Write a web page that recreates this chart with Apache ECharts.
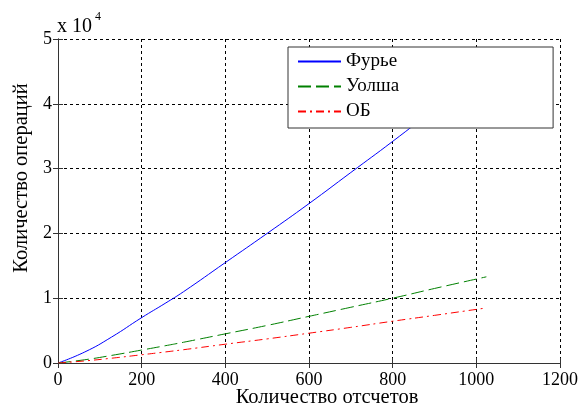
<!DOCTYPE html>
<html>
<head>
<meta charset="utf-8">
<script src="https://cdn.jsdelivr.net/npm/echarts@6/dist/echarts.min.js"></script>
<style>
html,body{margin:0;padding:0;background:#fff;}
#chart{width:584px;height:407px;}
</style>
</head>
<body>
<div id="chart"></div>
<script>
// Values
const samples = [0, 64, 128, 200, 256, 300, 400, 500, 600, 700, 800, 900, 1024];
const fourier = [0, 1700, 4000, 7000, 9200, 11000, 15500, 20000, 24600, 29400, 34200, 39200, 45500];
const walsh   = [0, 500, 1170, 2000, 2660, 3200, 4500, 5800, 7200, 8600, 10000, 11500, 13300];
const ob      = [0, 320, 740, 1270, 1700, 2050, 2900, 3720, 4600, 5500, 6450, 7350, 8500];
const seriesNames = ['Фурье', 'Уолша', 'ОБ'];
const xTicks = [0, 200, 400, 600, 800, 1000, 1200];
const yTicks = [0, 1, 2, 3, 4, 5];
const xTitle = 'Количество отсчетов';
const yTitle = 'Количество операций';

const pair = (ys) => samples.map((x, i) => [x, ys[i]]);
const serif = '"Liberation Serif", "Times New Roman", serif';

const chart = echarts.init(document.getElementById('chart'), null, {renderer: 'canvas'});

const gridDash = {show: true, lineStyle: {color: '#000', type: [3, 3], width: 1}};
const axisCommon = {
  min: 0,
  axisLine: {show: true, lineStyle: {color: '#333', width: 1}},
  axisTick: {show: true, inside: true, length: 5, lineStyle: {color: '#333'}},
};

chart.setOption({
  animation: false,
  backgroundColor: '#fff',
  grid: {left: 58, right: 24, top: 39, bottom: 44, containLabel: false},
  xAxis: [
    Object.assign({}, axisCommon, {
      type: 'value', max: 1200, interval: 200, position: 'bottom',
      axisLabel: {color: '#000', fontFamily: serif, fontSize: 18, margin: 8,
                  formatter: (v) => xTicks.includes(v) ? String(v) : ''},
      splitLine: gridDash
    }),
    Object.assign({}, axisCommon, {
      type: 'value', max: 1200, interval: 200, position: 'top',
      axisLabel: {show: false}, splitLine: {show: false}
    })
  ],
  yAxis: [
    Object.assign({}, axisCommon, {
      type: 'value', max: 50000, interval: 10000, position: 'left',
      axisLabel: {color: '#000', fontFamily: serif, fontSize: 18, margin: 6,
                  formatter: (v) => { const t = v / 10000; return yTicks.includes(t) ? String(t) : ''; }},
      splitLine: gridDash
    }),
    Object.assign({}, axisCommon, {
      type: 'value', max: 50000, interval: 10000, position: 'right',
      axisLabel: {show: false}, splitLine: {show: false}
    })
  ],
  legend: {
    orient: 'vertical', left: 288, top: 47,
    backgroundColor: '#fff', borderColor: '#333', borderWidth: 1,
    padding: [5, 154, 7, 9], itemGap: 6, itemWidth: 43, itemHeight: 19, itemTextGap: 8,
    itemStyle: {color: 'rgba(0,0,0,0)', borderWidth: 0, opacity: 0},
    textStyle: {color: '#000', fontFamily: serif, fontSize: 19, lineHeight: 19},
    data: seriesNames, z: 10
  },
  graphic: [
    {
      type: 'text', x: 57, y: 27, z: 10,
      style: {text: 'x 10', fontFamily: serif, fontSize: 20, fill: '#000',
              align: 'left', verticalAlign: 'middle'}
    },
    {
      type: 'text', x: 95, y: 16.5, z: 10,
      style: {text: '4', fontFamily: serif, fontSize: 12, fill: '#000',
              align: 'left', verticalAlign: 'middle'}
    },
    {
      type: 'text', x: 327, y: 398, z: 10,
      style: {text: xTitle, fontFamily: serif, fontSize: 20.5, fill: '#000',
              align: 'center', verticalAlign: 'middle'}
    },
    {
      type: 'text', x: 22, y: 178, rotation: Math.PI / 2, z: 10,
      style: {text: yTitle, fontFamily: serif, fontSize: 20.5, fill: '#000',
              align: 'center', verticalAlign: 'middle'}
    }
  ],
  series: [
    {name: seriesNames[0], type: 'line', data: pair(fourier), smooth: true, symbol: 'none',
     lineStyle: {color: '#0000ff', width: 1, type: 'solid'}, itemStyle: {color: '#0000ff'}},
    {name: seriesNames[1], type: 'line', data: pair(walsh), smooth: true, symbol: 'none',
     lineStyle: {color: '#008000', width: 1, type: [13, 5]}, itemStyle: {color: '#008000'}},
    {name: seriesNames[2], type: 'line', data: pair(ob), smooth: true, symbol: 'none',
     lineStyle: {color: '#ff0000', width: 1, type: [8, 4, 2, 4]}, itemStyle: {color: '#ff0000'}}
  ]
});
</script>
</body>
</html>
